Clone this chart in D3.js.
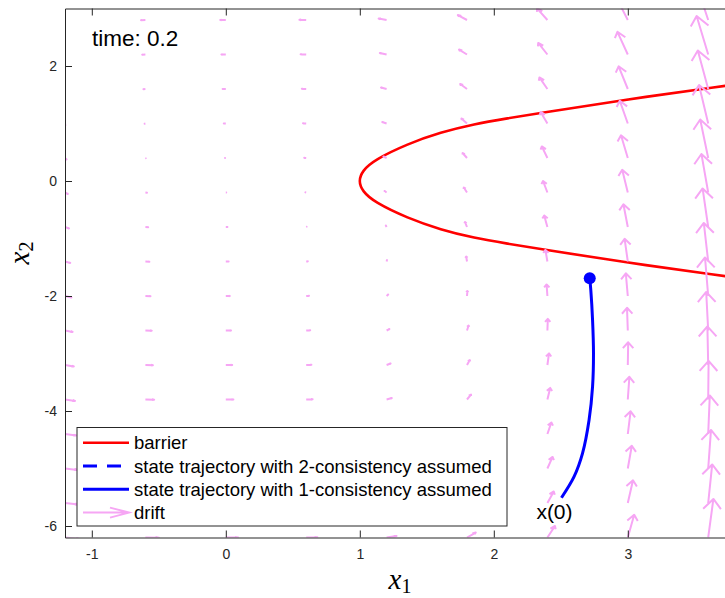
<!DOCTYPE html>
<html>
<head>
<meta charset="utf-8">
<script src="https://cdn.jsdelivr.net/npm/d3@7"></script>
<style>
body{margin:0;background:#fff;}
svg{display:block;font-family:"Liberation Sans",Arial,sans-serif;}
</style>
</head>
<body>
<div id="chart"></div>
<script>
var width = 725;
var height = 598;
var box = {left: 65, top: 8.5, right: 735, bottom: 537.5};

// data
var xTicks = [-1, 0, 1, 2, 3];
var yTicks = [-6, -4, -2, 0, 2];
var timeLabel = "time: 0.2";

// barrier curve (x1 as function of x2)
var barrierX2 = [-1.70, -1.655, -1.405, -1.185, -1.09, -0.991, -0.847, -0.646, -0.365, -0.18, 0, 0.18, 0.365, 0.646, 0.847, 0.991, 1.09, 1.185, 1.405, 1.655, 1.70];
var barrierX1 = [3.87, 3.731, 2.948, 2.351, 2.102, 1.853, 1.604, 1.356, 1.107, 1.02, 0.99, 1.02, 1.107, 1.356, 1.604, 1.853, 2.102, 2.351, 2.948, 3.731, 3.87];

// state trajectory, 1-consistency (from x(0) to current state)
var trajX1 = [2.505, 2.599, 2.662, 2.711, 2.737, 2.744, 2.737, 2.724, 2.716];
var trajX2 = [-5.508, -5.143, -4.737, -4.157, -3.577, -2.997, -2.417, -1.896, -1.692];

// drift field grid
var gridX1 = [-1.2, -0.6, 0, 0.6, 1.2, 1.8, 2.4, 3.0, 3.6];
var gridX2 = [2.8, 2.2, 1.6, 1.0, 0.4, -0.2, -0.8, -1.4, -2.0, -2.6, -3.2, -3.8, -4.4, -5.0, -5.6, -6.2];
var driftU = [
  [-1.6,-2.2,-2.8,-3.4,-4.0,-4.6,-5.2,-5.8,-6.4],
  [-1.0,-1.6,-2.2,-2.8,-3.4,-4.0,-4.6,-5.2,-5.8],
  [-0.4,-1.0,-1.6,-2.2,-2.8,-3.4,-4.0,-4.6,-5.2],
  [ 0.2,-0.4,-1.0,-1.6,-2.2,-2.8,-3.4,-4.0,-4.6],
  [ 0.8, 0.2,-0.4,-1.0,-1.6,-2.2,-2.8,-3.4,-4.0],
  [ 1.4, 0.8, 0.2,-0.4,-1.0,-1.6,-2.2,-2.8,-3.4],
  [ 2.0, 1.4, 0.8, 0.2,-0.4,-1.0,-1.6,-2.2,-2.8],
  [ 2.6, 2.0, 1.4, 0.8, 0.2,-0.4,-1.0,-1.6,-2.2],
  [ 3.2, 2.6, 2.0, 1.4, 0.8, 0.2,-0.4,-1.0,-1.6],
  [ 3.8, 3.2, 2.6, 2.0, 1.4, 0.8, 0.2,-0.4,-1.0],
  [ 4.4, 3.8, 3.2, 2.6, 2.0, 1.4, 0.8, 0.2,-0.4],
  [ 5.0, 4.4, 3.8, 3.2, 2.6, 2.0, 1.4, 0.8, 0.2],
  [ 5.6, 5.0, 4.4, 3.8, 3.2, 2.6, 2.0, 1.4, 0.8],
  [ 6.2, 5.6, 5.0, 4.4, 3.8, 3.2, 2.6, 2.0, 1.4],
  [ 6.8, 6.2, 5.6, 5.0, 4.4, 3.8, 3.2, 2.6, 2.0],
  [ 7.4, 6.8, 6.2, 5.6, 5.0, 4.4, 3.8, 3.2, 2.6]
];
var driftV = [-1.7, -0.2, 0, 0.2, 1.7, 5.8, 13.5, 26.5, 45];

var legendLabels = ["barrier", "state trajectory with 2-consistency assumed", "state trajectory with 1-consistency assumed", "drift"];

var pink = "#f6a6f4";
var axisCol = "#262626";

var svg = d3.select('#chart').append('svg')
  .attr("width", width)
  .attr("height", height);

//scalers
var x = d3.scaleLinear().domain([-1.2, 3.8]).range([box.left, box.right]);
var y = d3.scaleLinear().domain([-6.2, 3.0]).range([box.bottom, box.top]);

svg.append("defs").append("clipPath").attr("id", "clip")
  .append("rect")
  .attr("x", box.left).attr("y", box.top)
  .attr("width", box.right - box.left).attr("height", box.bottom - box.top);

var plot = svg.append("g").attr("clip-path", "url(#clip)");

// barrier
var barrierPts = barrierX2.map(function(d, i){ return [barrierX1[i], d]; });
plot.append("path")
  .attr("d", d3.line().x(function(d){return x(d[0]);}).y(function(d){return y(d[1]);}).curve(d3.curveBasis)(barrierPts))
  .attr("fill", "none").attr("stroke", "#ff0000").attr("stroke-width", 2.6);

// trajectory
var trajPts = trajX1.map(function(d, i){ return [d, trajX2[i]]; });
plot.append("path")
  .attr("d", d3.line().x(function(d){return x(d[0]);}).y(function(d){return y(d[1]);}).curve(d3.curveCatmullRom)(trajPts))
  .attr("fill", "none").attr("stroke", "#0000ff").attr("stroke-width", 3);
var last = trajPts[trajPts.length - 1];
plot.append("circle")
  .attr("cx", x(last[0])).attr("cy", y(last[1])).attr("r", 6)
  .attr("fill", "#0000ff");

// drift quiver (matlab style heads)
var qScale = 0.0149, alpha = 0.26, beta = 0.38;
var arrows = [];
gridX2.forEach(function(yy, i){
  gridX1.forEach(function(xx, j){
    arrows.push({x: xx, y: yy, u: driftU[i][j] * qScale, v: driftV[j] * qScale});
  });
});
plot.selectAll("path.arrow")
  .data(arrows)
  .enter()
  .append("path")
  .attr("class", "arrow")
  .attr("d", function(d){
    var tx = d.x + d.u, ty = d.y + d.v;
    var h1x = tx - alpha * (d.u + beta * d.v), h1y = ty - alpha * (d.v - beta * d.u);
    var h2x = tx - alpha * (d.u - beta * d.v), h2y = ty - alpha * (d.v + beta * d.u);
    return "M" + x(d.x) + "," + y(d.y) + "L" + x(tx) + "," + y(ty)
      + "M" + x(h1x) + "," + y(h1y) + "L" + x(tx) + "," + y(ty) + "L" + x(h2x) + "," + y(h2y);
  })
  .attr("fill", "none")
  .attr("stroke", pink)
  .attr("stroke-width", 2)
  .attr("stroke-linejoin", "round");

// x(0) label
plot.append("text")
  .attr("x", x(trajPts[0][0]) - 7)
  .attr("y", y(trajPts[0][1]) + 21)
  .attr("text-anchor", "middle")
  .attr("font-size", 21)
  .attr("fill", "#000")
  .text("x(0)");

// axes
var fmt = function(d){ return String(d); };
var gx = svg.append("g").attr("transform", "translate(0," + box.bottom + ")")
  .call(d3.axisBottom(x).tickValues(xTicks).tickSizeInner(-7).tickSizeOuter(0).tickPadding(12).tickFormat(fmt));
var gt = svg.append("g").attr("transform", "translate(0," + box.top + ")")
  .call(d3.axisTop(x).tickValues(xTicks).tickSizeInner(-7).tickSizeOuter(0).tickFormat(""));
var gy = svg.append("g").attr("transform", "translate(" + box.left + ",0)")
  .call(d3.axisLeft(y).tickValues(yTicks).tickSizeInner(-7).tickSizeOuter(0).tickPadding(8).tickFormat(fmt));
[gx, gt, gy].forEach(function(g){
  g.selectAll("path,line").attr("stroke", axisCol);
  g.selectAll("text").attr("fill", axisCol).attr("font-size", 14).attr("font-family", "Liberation Sans, Arial, sans-serif");
});

// time text
svg.append("text")
  .attr("x", 92).attr("y", 46)
  .attr("font-size", 22.5)
  .attr("fill", "#000")
  .text(timeLabel);

// axis labels
var xl = svg.append("text")
  .attr("x", 400).attr("y", 589)
  .attr("text-anchor", "middle")
  .attr("font-family", "Liberation Serif, serif")
  .attr("fill", "#000");
xl.append("tspan").attr("font-size", 29).attr("font-style", "italic").text("x");
xl.append("tspan").attr("font-size", 20).attr("dy", 4).text("1");

var yl = svg.append("text")
  .attr("transform", "translate(29,253) rotate(-90)")
  .attr("text-anchor", "middle")
  .attr("font-family", "Liberation Serif, serif")
  .attr("fill", "#000");
yl.append("tspan").attr("font-size", 29).attr("font-style", "italic").text("x");
yl.append("tspan").attr("font-size", 20).attr("dy", 4).text("2");

// legend
var lg = svg.append("g");
lg.append("rect")
  .attr("x", 77).attr("y", 427.5).attr("width", 430).attr("height", 98.5)
  .attr("fill", "#fff").attr("stroke", axisCol).attr("stroke-width", 1);
var rowY = function(i){ return 442.7 + i * 23.3; };
lg.selectAll("text.lab")
  .data(legendLabels)
  .enter()
  .append("text")
  .attr("class", "lab")
  .attr("x", 134)
  .attr("y", function(d, i){ return rowY(i); })
  .attr("dy", "0.36em")
  .attr("font-size", 18.5)
  .attr("fill", "#000")
  .text(function(d){ return d; });
lg.append("line").attr("x1", 83).attr("x2", 129).attr("y1", rowY(0)).attr("y2", rowY(0))
  .attr("stroke", "#ff0000").attr("stroke-width", 2.6);
lg.append("line").attr("x1", 83).attr("x2", 129).attr("y1", rowY(1)).attr("y2", rowY(1))
  .attr("stroke", "#0000ff").attr("stroke-width", 3).attr("stroke-dasharray", "14,10");
lg.append("line").attr("x1", 83).attr("x2", 129).attr("y1", rowY(2)).attr("y2", rowY(2))
  .attr("stroke", "#0000ff").attr("stroke-width", 3);
lg.append("path")
  .attr("d", "M83," + rowY(3) + "L129," + rowY(3) + "M110," + (rowY(3) - 5) + "L129," + rowY(3) + "L110," + (rowY(3) + 5))
  .attr("fill", "none").attr("stroke", pink).attr("stroke-width", 2);
</script>
</body>
</html>
